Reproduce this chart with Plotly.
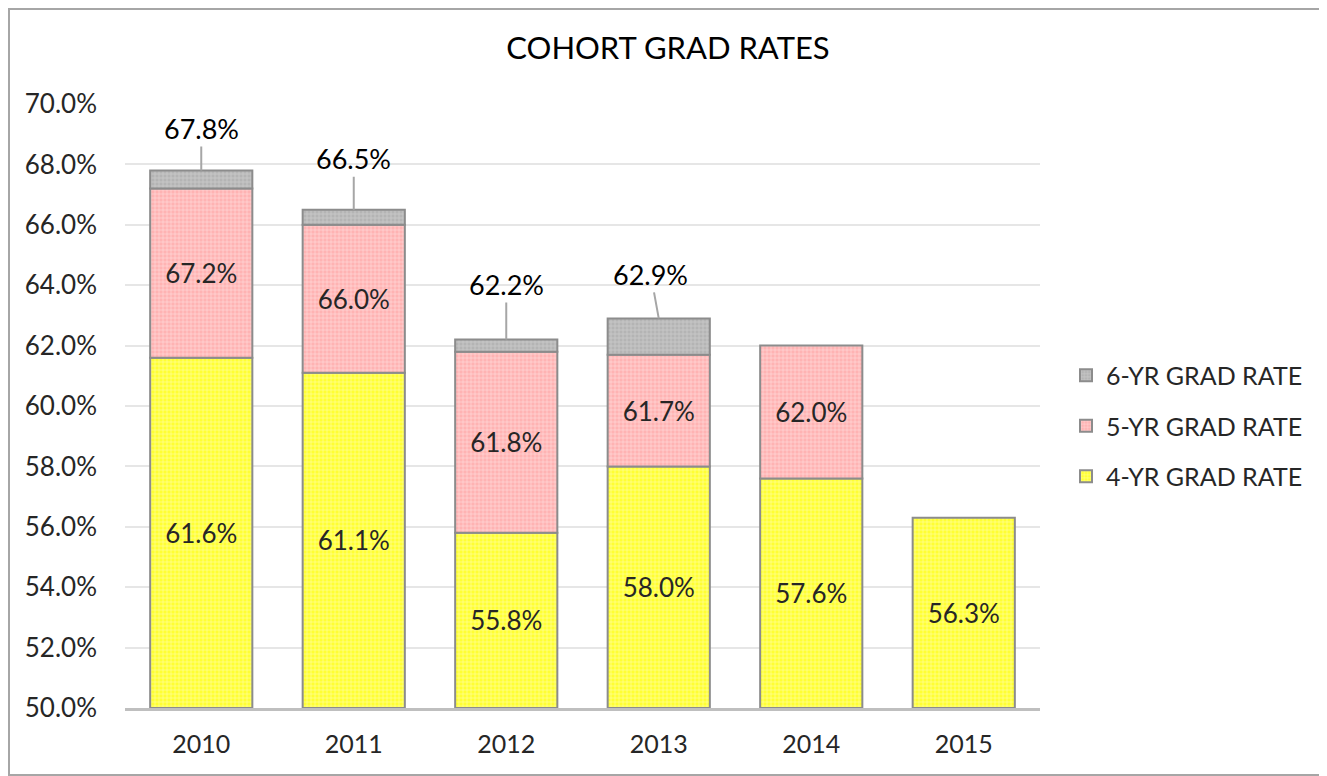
import plotly.graph_objects as go

years = ["2010", "2011", "2012", "2013", "2014", "2015"]
rate4 = [61.6, 61.1, 55.8, 58.0, 57.6, 56.3]
rate5 = [67.2, 66.0, 61.8, 61.7, 62.0, None]
rate6 = [67.8, 66.5, 62.2, 62.9, None, None]

axis_floor = 50.0

# label offsets (px) for the 6-yr callouts
label_dx = [0, 0, 0, -8, 0, 0]
label_dy = [-42, -51, -55, -44, 0, 0]

# page body has an 8px margin, so the figure is drawn 8px smaller and everything is shifted
OFF = 8
W, H = 1327 - OFF, 776 - OFF
L, R, T, B = 125 - OFF, 287, 104 - OFF, 68
pw, ph = W - L - R, H - T - B

def px_x(v):
    return (v - OFF - L) / pw

def px_y(v):
    return (H - B - (v - OFF)) / ph

font = "Lato"
edge = dict(color="#8C8C8C", width=2)

def pat(fg):
    return dict(shape="+", size=4, solidity=0.25, fgcolor=fg, fgopacity=0.6)

fig = go.Figure()

fig.add_trace(go.Bar(
    x=years, y=[v - axis_floor for v in rate4], base=axis_floor,
    name="4-YR GRAD RATE", legendgroup="g4", legendrank=3,
    marker=dict(color="#FFFF33", line=edge, pattern=pat("#FFFFFF")),
    text=[f"{v:.1f}%" for v in rate4], textposition="inside",
    insidetextanchor="middle", textangle=0,
    textfont=dict(family=font, size=26, color="#262626"),
    hoverinfo="skip",
))

b5 = [a if b is not None else None for a, b in zip(rate4, rate5)]
fig.add_trace(go.Bar(
    x=years, y=[(b - a) if b is not None else None for a, b in zip(rate4, rate5)], base=b5,
    name="5-YR GRAD RATE", legendgroup="g5", legendrank=2,
    marker=dict(color="#FFB3B3", line=edge, pattern=pat("#FFFFFF")),
    text=[f"{v:.1f}%" if v is not None else "" for v in rate5], textposition="inside",
    insidetextanchor="middle", textangle=0,
    textfont=dict(family=font, size=26, color="#262626"),
    hoverinfo="skip",
))

b6 = [a if b is not None else None for a, b in zip(rate5, rate6)]
fig.add_trace(go.Bar(
    x=years, y=[(b - a) if b is not None else None for a, b in zip(rate5, rate6)], base=b6,
    name="6-YR GRAD RATE", legendgroup="g6", legendrank=1,
    marker=dict(color="#B4B4B4", line=edge, pattern=pat("#E8E8E8")),
    hoverinfo="skip",
))

for i, v in enumerate(rate6):
    if v is None:
        continue
    fig.add_annotation(
        x=i, y=v, xref="x", yref="y", text=f"{v:.1f}%", showarrow=True, arrowhead=0,
        arrowcolor="#A6A6A6", arrowwidth=2, standoff=0,
        ax=label_dx[i], ay=label_dy[i],
        font=dict(family=font, size=27, color="#000000"),
    )

fig.add_shape(type="rect", xref="paper", yref="paper",
              x0=px_x(9), x1=px_x(1326), y0=px_y(775), y1=px_y(9),
              line=dict(color="#A6A6A6", width=2), layer="below")

fig.update_layout(
    width=W, height=H,
    margin=dict(l=L, r=R, t=T, b=B, autoexpand=False),
    paper_bgcolor="white", plot_bgcolor="white",
    barmode="overlay", bargap=0.33,
    title=dict(text="COHORT GRAD RATES", x=px_x(668), xref="paper", xanchor="center",
               y=1 - (48 - OFF) / H, yanchor="middle",
               font=dict(family=font, size=31, color="#000000")),
    font=dict(family=font, color="#262626"),
    legend=dict(x=px_x(1066), y=px_y(426), xanchor="left", yanchor="middle",
                traceorder="grouped", tracegroupgap=15,
                font=dict(family=font, size=25, color="#262626")),
    xaxis=dict(type="category", range=[-0.5, 5.5], showline=True, linecolor="#BFBFBF",
               linewidth=3, ticks="", tickfont=dict(size=25), showgrid=False,
               ticklabelstandoff=12),
    yaxis=dict(range=[50, 70], dtick=2, tickformat=".1f", ticksuffix="%",
               showgrid=True, gridcolor="#E6E6E6", gridwidth=2,
               zeroline=False, ticks="", tickfont=dict(size=26),
               ticklabelstandoff=27),
)

fig.write_html("out.html")
